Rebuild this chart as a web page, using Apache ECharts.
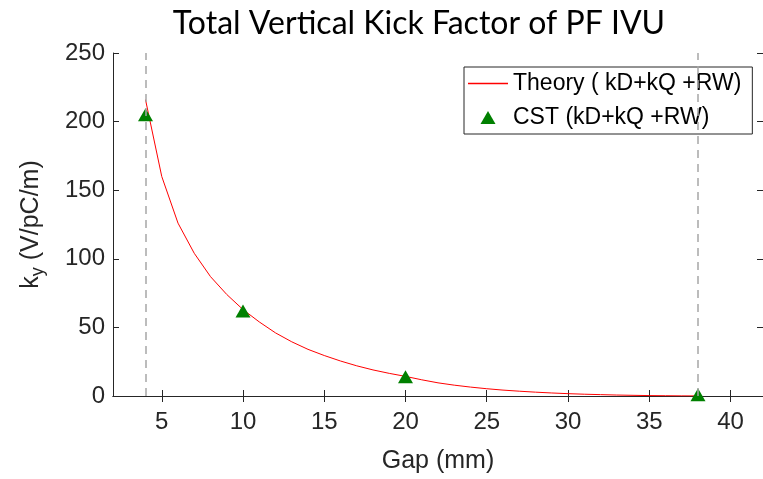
<!DOCTYPE html>
<html>
<head>
<meta charset="utf-8">
<script src="https://cdn.jsdelivr.net/npm/echarts@6/dist/echarts.min.js"></script>
<style>
  html, body { margin: 0; padding: 0; background: #fff; }
  #chart { width: 763px; height: 479px; }
</style>
</head>
<body>
<div id="chart"></div>
<script>
// theory curve (kD + kQ + RW)
var theoryGap = [4, 5, 6, 7, 8, 9, 10, 11, 12, 13, 14, 15, 16, 17, 18, 19, 20, 21, 22, 23, 24, 25, 26, 27, 28, 29, 30, 31, 32, 33, 34, 35, 36, 37, 38];
var theoryK = [216, 160, 126, 104, 87, 74, 63, 54, 46, 39.5, 34, 29.5, 25.5, 22, 19, 16.5, 14.3, 11.8, 9.6, 7.9, 6.5, 5.3, 4.3, 3.5, 2.8, 2.2, 1.7, 1.3, 1.0, 0.7, 0.5, 0.3, 0.2, 0.1, 0.05];

// CST simulation points
var cstGap = [4, 10, 20, 38];
var cstK = [205, 62, 14, 1];

// dashed marker lines and tick labels
var gapLimits = [4, 38];
var xTicks = [5, 10, 15, 20, 25, 30, 35, 40];

var theoryName = 'Theory ( kD+kQ +RW)';
var cstName = 'CST (kD+kQ +RW)';

var chart = echarts.init(document.getElementById('chart'));

var axisColor = '#262626';
var labelFont = 'Liberation Sans';

function pairs(xs, ys) {
    return xs.map(function (x, i) { return [x, ys[i]]; });
}

var option = {
    animation: false,
    title: {
        text: 'Total Vertical Kick Factor of PF IVU',
        left: 414,
        textAlign: 'center',
        top: 3,
        textStyle: {
            fontFamily: 'Lato',
            fontWeight: 'normal',
            fontSize: 32,
            color: '#000'
        }
    },
    legend: {
        orient: 'vertical',
        left: 464,
        top: 67,
        padding: [5, 11, 5, 4],
        itemWidth: 40,
        itemHeight: 13,
        itemGap: 11,
        borderColor: axisColor,
        borderWidth: 1,
        backgroundColor: '#fff',
        textStyle: { fontFamily: labelFont, fontSize: 23, color: '#000' },
        data: [
            {
                name: theoryName,
                icon: 'path://M0,0H40V1.5H0Z',
                itemStyle: { color: '#ff0000', borderWidth: 0 },
                lineStyle: { color: '#ff0000', width: 1 }
            },
            { name: cstName, icon: 'path://M0,13L7.5,0L15,13Z' }
        ]
    },
    grid: {
        left: 113,
        right: -5,
        top: 53,
        bottom: 80
    },
    xAxis: [
        {
            type: 'value',
            min: 2,
            max: 42,
            name: 'Gap (mm)',
            nameLocation: 'middle',
            nameGap: 53,
            nameTextStyle: { fontFamily: labelFont, fontSize: 25, color: axisColor },
            axisLine: { lineStyle: { color: axisColor, width: 1 } },
            axisTick: { inside: true, length: 6, customValues: xTicks, lineStyle: { color: axisColor } },
            axisLabel: { customValues: xTicks, fontFamily: labelFont, fontSize: 24, color: axisColor, margin: 14 },
            splitLine: { show: false }
        },
        {
            type: 'value',
            position: 'top',
            min: 2,
            max: 42,
            axisLine: { lineStyle: { color: axisColor, width: 1 } },
            axisTick: { inside: true, length: 6, customValues: xTicks, lineStyle: { color: axisColor } },
            axisLabel: { show: false },
            splitLine: { show: false }
        }
    ],
    yAxis: [
        {
            type: 'value',
            min: 0,
            max: 250,
            interval: 50,
            name: '{k|k}{s|y}{k| (V/pC/m)}',
            nameLocation: 'middle',
            nameGap: 66,
            nameTextStyle: {
                color: axisColor,
                rich: {
                    k: { fontFamily: labelFont, fontSize: 25, color: axisColor },
                    s: { fontFamily: labelFont, fontSize: 18, color: axisColor, verticalAlign: 'bottom', padding: [14, 0, 0, 0] }
                }
            },
            axisLine: { lineStyle: { color: axisColor, width: 1 } },
            axisTick: { inside: true, length: 6, lineStyle: { color: axisColor } },
            axisLabel: { fontFamily: labelFont, fontSize: 24, color: axisColor, margin: 8 },
            splitLine: { show: false }
        },
        {
            type: 'value',
            position: 'right',
            min: 0,
            max: 250,
            interval: 50,
            axisLine: { show: true, lineStyle: { color: axisColor, width: 1 } },
            axisTick: { inside: true, length: 6, lineStyle: { color: axisColor } },
            axisLabel: { show: false },
            splitLine: { show: false }
        }
    ],
    series: [
        {
            name: theoryName,
            type: 'line',
            symbol: 'none',
            smooth: false,
            data: pairs(theoryGap, theoryK),
            lineStyle: { color: '#ff0000', width: 1 },
            itemStyle: { color: '#ff0000' },
            z: 3,
            markLine: {
                silent: true,
                symbol: 'none',
                label: { show: false },
                lineStyle: { color: '#a6a6a6', type: [8, 6], width: 1.5 },
                data: gapLimits.map(function (g) { return { xAxis: g }; })
            }
        },
        {
            name: cstName,
            type: 'scatter',
            symbol: 'triangle',
            symbolSize: [15, 13],
            data: pairs(cstGap, cstK),
            itemStyle: { color: '#008000', opacity: 1 },
            z: 4
        }
    ]
};

chart.setOption(option);
</script>
</body>
</html>
